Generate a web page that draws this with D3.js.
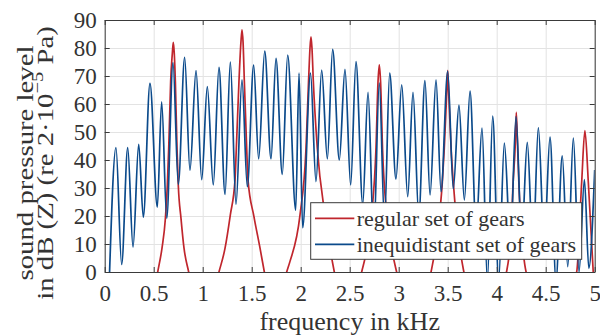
<!DOCTYPE html>
<html>
<head>
<meta charset="utf-8">
<script src="https://cdn.jsdelivr.net/npm/d3@7"></script>
<style>
  body { margin: 0; background: #fff; }
  svg text { font-family: "Liberation Serif", "Times New Roman", serif; fill: #333; }
</style>
</head>
<body>
<svg id="chart" width="600" height="336"></svg>
<script>
// axis ticks
const xTicks = [0, 0.5, 1, 1.5, 2, 2.5, 3, 3.5, 4, 4.5, 5]
const yTicks = [0, 10, 20, 30, 40, 50, 60, 70, 80, 90]

// [frequency kHz, SPL dB], values below 0 are clipped
const regularGears = [
  [0.45, -20], [0.541, 0], [0.585, 8.6], [0.619, 19], [0.639, 31], [0.653, 44], [0.663, 56], [0.673, 68], [0.690, 78], [0.700, 82],
  [0.710, 78], [0.721, 68], [0.738, 44], [0.751, 31], [0.779, 19], [0.809, 8.6], [0.857, 0], [1.01, -20],
  [1.166, 0], [1.228, 8.5], [1.282, 20.4], [1.330, 33], [1.343, 44], [1.370, 68], [1.390, 82], [1.401, 86.5],
  [1.412, 82], [1.425, 68], [1.449, 44], [1.462, 33], [1.523, 19.8], [1.585, 8.5], [1.629, 0], [1.74, -20],
  [1.857, 0], [1.890, 3.7], [1.993, 20.4], [2.054, 44], [2.080, 68], [2.095, 80], [2.105, 84],
  [2.115, 80], [2.129, 68], [2.170, 44], [2.248, 20.4], [2.299, 8.5], [2.343, 0], [2.48, -20],
  [2.622, 0], [2.680, 9], [2.724, 20.5], [2.768, 44], [2.789, 68], [2.802, 74],
  [2.815, 68], [2.835, 44], [2.880, 20], [2.930, 8], [2.979, 0], [3.15, -20],
  [3.330, 0], [3.400, 15], [3.445, 32], [3.465, 44], [3.490, 64], [3.500, 72],
  [3.510, 64], [3.535, 44], [3.557, 32], [3.600, 15], [3.665, 0], [3.88, -20],
  [4.100, 0], [4.150, 16], [4.165, 30], [4.190, 46], [4.200, 57], [4.212, 46], [4.228, 30], [4.250, 16], [4.300, 0], [4.55, -20],
  [4.816, 0], [4.867, 32], [4.900, 50.5], [4.935, 32], [4.985, 0], [5.0, -8]
]

const inequidistantGears = [
  [0.045, -5], [0.115, 44.4], [0.173, 2.7], [0.235, 44.4], [0.289, 8.9], [0.347, 45.6], [0.394, 19.6],
  [0.462, 67.4], [0.537, 23.2], [0.581, 60.8], [0.633, 19.2], [0.697, 74.8], [0.751, 31.3], [0.816, 76.7],
  [0.870, 36.3], [0.932, 71.9], [0.990, 33], [1.047, 66.2], [1.108, 31.1], [1.166, 73.1], [1.228, 27.7],
  [1.282, 75], [1.340, 24.2], [1.401, 68.6], [1.455, 30.5], [1.520, 73.9], [1.571, 40.4], [1.633, 78.9],
  [1.697, 40.4], [1.748, 76.3], [1.812, 34.9], [1.867, 77.5], [1.949, 22.1], [1.983, 71], [2.020, 15.8],
  [2.100, 71], [2.156, 32.3], [2.214, 72.1], [2.272, 40.4], [2.326, 79.5], [2.394, 40], [2.452, 72.4],
  [2.510, 31.1], [2.564, 75.1], [2.633, 24.2], [2.687, 64.2], [2.745, 12], [2.802, 67.5], [2.855, 18],
  [2.908, 71], [2.972, 33.2], [3.031, 66.8], [3.092, 26.9], [3.146, 64.2], [3.205, 20], [3.268, 68.4],
  [3.320, 27.5], [3.381, 68.6], [3.432, 28.7], [3.500, 71.7], [3.557, 29.7], [3.615, 59.6], [3.670, 25.7],
  [3.728, 64.6], [3.790, 15], [3.850, 51.4], [3.905, -3], [3.959, 55.7], [4.020, -3], [4.078, 46],
  [4.140, 10], [4.197, 55.5], [4.255, 12], [4.312, 46.3], [4.370, 8], [4.425, 51.6], [4.485, 10],
  [4.544, 48.2], [4.605, -3], [4.669, 41.5], [4.725, 1.9], [4.782, 47.8], [4.840, 0], [4.895, 33],
  [4.940, 1.3], [5.0, 36.4]
]

const seriesNames = ['regular set of gears', 'inequidistant set of gears']
const seriesColors = ['#c0262d', '#0b4a8b']

const W = 600, H = 336
const MARGIN = { top: 20, right: 5.3, bottom: 64, left: 104.7 }
const cW = W - MARGIN.left - MARGIN.right
const cH = H - MARGIN.top - MARGIN.bottom

const svg = d3.select('#chart')
const g = svg.append('g').attr('transform', `translate(${MARGIN.left},${MARGIN.top})`)

const x = d3.scaleLinear().domain([0, 5]).range([0, cW])
const y = d3.scaleLinear().domain([0, 90]).range([cH, 0])

svg.append('defs').append('clipPath').attr('id', 'clip')
  .append('rect').attr('width', cW).attr('height', cH)

// grid
g.append('g').attr('class', 'grid')
  .call(d3.axisBottom(x).tickValues(xTicks).tickSize(cH).tickFormat(''))
  .call(s => s.select('.domain').remove())
  .selectAll('line').attr('stroke', '#e3e3e3')
g.append('g').attr('class', 'grid')
  .call(d3.axisLeft(y).tickValues(yTicks).tickSize(-cW).tickFormat(''))
  .call(s => s.select('.domain').remove())
  .selectAll('line').attr('stroke', '#e3e3e3')

// series
const line = d3.line().x(d => x(d[0])).y(d => y(d[1])).curve(d3.curveMonotoneX)
const gLines = g.append('g').attr('clip-path', 'url(#clip)')
;[regularGears, inequidistantGears].forEach((data, i) => {
  gLines.append('path')
    .datum(data)
    .attr('d', line)
    .attr('fill', 'none')
    .attr('stroke', seriesColors[i])
    .attr('stroke-width', 1.7)
    .attr('stroke-linejoin', 'round')
})

// axes, ticks inside on all four sides
const styleAxis = s => {
  s.select('.domain').attr('stroke', '#3a3a3a')
  s.selectAll('.tick line').attr('stroke', '#3a3a3a')
  s.selectAll('text').attr('fill', '#333').attr('font-size', 23).attr('font-family', '"Liberation Serif", serif')
}
g.append('g').attr('transform', `translate(0,${cH})`)
  .call(d3.axisBottom(x).tickValues(xTicks).tickSizeInner(-5).tickSizeOuter(0).tickPadding(13).tickFormat(d3.format('')))
  .call(styleAxis)
g.append('g')
  .call(d3.axisTop(x).tickValues(xTicks).tickSizeInner(-5).tickSizeOuter(0).tickFormat(''))
  .call(styleAxis)
g.append('g')
  .call(d3.axisLeft(y).tickValues(yTicks).tickSizeInner(-5).tickSizeOuter(0).tickPadding(8))
  .call(styleAxis)
g.append('g').attr('transform', `translate(${cW},0)`)
  .call(d3.axisRight(y).tickValues(yTicks).tickSizeInner(-5).tickSizeOuter(0).tickFormat(''))
  .call(styleAxis)

// labels
g.append('text')
  .attr('x', cW / 2).attr('y', cH + 58)
  .attr('text-anchor', 'middle').attr('font-size', 26)
  .text('frequency in kHz')

// y label is drawn a little stretched along the text, like the reference
const yStretch = 1.2
const yMid = -(163 - MARGIN.top) / yStretch
const yLab = g.append('text')
  .attr('transform', `rotate(-90) scale(${yStretch},1)`)
  .attr('text-anchor', 'middle').attr('font-size', 24)
yLab.append('tspan').attr('x', yMid).attr('y', -72).text('sound pressure level')
const l2 = yLab.append('tspan').attr('x', yMid).attr('y', -52)
l2.append('tspan').text('in dB (Z) (re 2·10')
l2.append('tspan').attr('dy', -10).attr('font-size', 17).text('−5')
l2.append('tspan').attr('dy', 10).text(' Pa)')

// legend
const lg = g.append('g').attr('transform', `translate(${310.7 - MARGIN.left},${202.7 - MARGIN.top})`)
lg.append('rect').attr('width', 271).attr('height', 56.6)
  .attr('fill', '#fff').attr('stroke', '#3a3a3a').attr('stroke-width', 1)
seriesNames.forEach((name, i) => {
  const ly = 15.6 + i * 26
  lg.append('line').attr('x1', 4.3).attr('x2', 43.6).attr('y1', ly).attr('y2', ly)
    .attr('stroke', seriesColors[i]).attr('stroke-width', 1.7)
  lg.append('text').attr('x', 46).attr('y', ly).attr('dy', '0.33em')
    .attr('font-size', 22).text(name)
})
</script>
</body>
</html>
